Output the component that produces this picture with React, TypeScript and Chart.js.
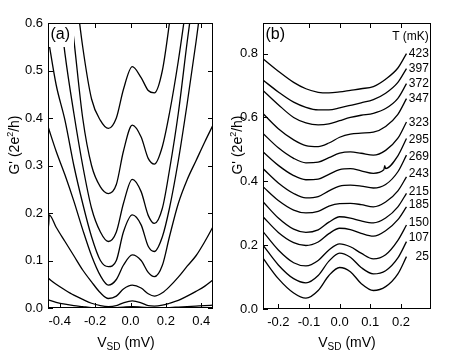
import React, { useEffect, useRef } from "react";
import { Chart, registerables } from "chart.js";

Chart.register(...registerables);

const FONT = '"Liberation Sans", Arial, Helvetica, sans-serif';

// ---------- Panel (a): G' vs V_SD for several gate settings ----------
const aBias = [-0.466, -0.42, -0.37, -0.32, -0.27, -0.22, -0.17, -0.125, -0.08, -0.04, 0.01, 0.06, 0.1, 0.135, 0.18, 0.22, 0.27, 0.32, 0.37, 0.42, 0.466];
const aCurve1 = [1.2, 1.0, 0.85, 0.7, 0.55, 0.44, 0.395, 0.378, 0.4, 0.46, 0.508, 0.485, 0.458, 0.453, 0.5, 0.6, 0.75, 0.9, 1.05, 1.2, 1.35];
const aCurve2 = [1.0, 0.85, 0.72, 0.565, 0.4, 0.3, 0.255, 0.241, 0.26, 0.33, 0.385, 0.36, 0.315, 0.303, 0.34, 0.41, 0.52, 0.65, 0.78, 0.9, 1.0];
const aCurve3 = [0.85, 0.7, 0.535, 0.41, 0.3, 0.21, 0.16, 0.14, 0.16, 0.22, 0.271, 0.245, 0.195, 0.178, 0.21, 0.29, 0.41, 0.56, 0.7, 0.85, 1.0];
const aCurve4 = [0.57, 0.47, 0.395, 0.3, 0.22, 0.15, 0.1, 0.087, 0.1, 0.16, 0.196, 0.175, 0.13, 0.119, 0.15, 0.21, 0.31, 0.43, 0.56, 0.7, 0.82];
const aCurve5 = [0.382, 0.33, 0.28, 0.225, 0.165, 0.11, 0.068, 0.048, 0.06, 0.09, 0.112, 0.1, 0.075, 0.066, 0.09, 0.15, 0.22, 0.27, 0.31, 0.35, 0.385];
const aCurve6 = [0.2, 0.17, 0.14, 0.11, 0.08, 0.055, 0.032, 0.02, 0.025, 0.04, 0.048, 0.042, 0.03, 0.025, 0.032, 0.045, 0.065, 0.088, 0.11, 0.14, 0.171];
const aCurve7 = [0.063, 0.05, 0.038, 0.027, 0.018, 0.01, 0.005, 0.003, 0.005, 0.011, 0.015, 0.011, 0.005, 0.004, 0.006, 0.01, 0.016, 0.025, 0.035, 0.046, 0.059];
const aCurve8 = [0.017, 0.012, 0.008, 0.005, 0.003, 0.001, 0.0, 0.0, 0.001, 0.002, 0.003, 0.002, 0.001, 0.0, 0.0, 0.001, 0.002, 0.003, 0.004, 0.005, 0.006];
const aGlitchBias = [-0.463, -0.459];
const aGlitchG = [0.171, 0.196];

// ---------- Panel (b): temperature dependence ----------
const bBias = [-0.25, -0.2, -0.15, -0.11, -0.07, -0.035, 0.0, 0.035, 0.07, 0.11, 0.15, 0.19, 0.218];
const bTemps = ["423", "397", "372", "347", "323", "295", "269", "243", "215", "185", "150", "107", "25"];
const b423 = [0.784, 0.745, 0.71, 0.69, 0.679, 0.677, 0.68, 0.685, 0.69, 0.697, 0.72, 0.755, 0.8];
const b397 = [0.717, 0.68, 0.648, 0.632, 0.624, 0.624, 0.63, 0.638, 0.646, 0.656, 0.676, 0.71, 0.753];
const b372 = [0.685, 0.64, 0.6, 0.583, 0.577, 0.58, 0.59, 0.6, 0.607, 0.613, 0.628, 0.66, 0.706];
const b347 = [0.6125, 0.565, 0.53, 0.512, 0.509, 0.52, 0.538, 0.548, 0.551, 0.554, 0.572, 0.61, 0.659];
const b323 = [0.55, 0.505, 0.472, 0.458, 0.46, 0.474, 0.488, 0.492, 0.488, 0.482, 0.497, 0.535, 0.586];
const b295 = [0.4925, 0.45, 0.418, 0.405, 0.407, 0.422, 0.437, 0.44, 0.433, 0.425, 0.44, 0.48, 0.534];
const b269 = [0.44, 0.395, 0.362, 0.348, 0.352, 0.37, 0.385, 0.388, 0.385, 0.379, 0.39, 0.43, 0.482];
const b243 = [0.383, 0.34, 0.31, 0.301, 0.306, 0.322, 0.33, 0.331, 0.327, 0.32, 0.335, 0.37, 0.414];
const b215 = [0.336, 0.285, 0.25, 0.24, 0.248, 0.272, 0.289, 0.285, 0.276, 0.27, 0.285, 0.32, 0.3625];
const b185 = [0.289, 0.24, 0.208, 0.199, 0.21, 0.236, 0.253, 0.249, 0.237, 0.228, 0.245, 0.28, 0.32];
const b150 = [0.2425, 0.185, 0.145, 0.135, 0.152, 0.185, 0.204, 0.195, 0.175, 0.157, 0.17, 0.215, 0.263];
const b107 = [0.2, 0.138, 0.095, 0.082, 0.105, 0.15, 0.175, 0.162, 0.13, 0.11, 0.12, 0.16, 0.211];
const b25 = [0.159, 0.095, 0.05, 0.034, 0.058, 0.105, 0.13, 0.117, 0.08, 0.058, 0.07, 0.11, 0.164];
const bSpikeBias = [0.144, 0.147];
const bSpikeG = [0.436, 0.449];
const bLabelG = [0.8, 0.753, 0.706, 0.659, 0.583, 0.531, 0.477, 0.425, 0.3675, 0.326, 0.269, 0.222, 0.1625];
const bLabelBias = 0.291;
const bHeaderG = 0.852;

type P = { x: number; y: number };
const pts = (xs: number[], ys: number[]): P[] => xs.map((x, i) => ({ x, y: ys[i] }));
const merge = (a: P[], b: P[]): P[] => [...a, ...b].sort((p, q) => p.x - q.x);

const lineDs = (data: P[]) => ({
  data,
  borderColor: "#000",
  borderWidth: 1.3,
  pointRadius: 0,
  fill: false,
  cubicInterpolationMode: "monotone" as const,
  clip: 0,
});

function drawVsd(ctx: CanvasRenderingContext2D, cx: number, base: number) {
  const big = `14px ${FONT}`;
  const small = `10px ${FONT}`;
  ctx.font = big;
  const wV = ctx.measureText("V").width;
  const wR = ctx.measureText(" (mV)").width;
  ctx.font = small;
  const wS = ctx.measureText("SD").width;
  let x = cx - (wV + wS + wR) / 2;
  ctx.textAlign = "left";
  ctx.textBaseline = "alphabetic";
  ctx.font = big;
  ctx.fillText("V", x, base);
  x += wV;
  ctx.font = small;
  ctx.fillText("SD", x, base + 3);
  x += wS;
  ctx.font = big;
  ctx.fillText(" (mV)", x, base);
}

function drawGtitle(ctx: CanvasRenderingContext2D, cx: number, cy: number) {
  const big = `14px ${FONT}`;
  const small = `9px ${FONT}`;
  ctx.save();
  ctx.translate(cx, cy);
  ctx.rotate(-Math.PI / 2);
  ctx.font = big;
  const w1 = ctx.measureText("G' (2e").width;
  const w3 = ctx.measureText("/h)").width;
  ctx.font = small;
  const w2 = ctx.measureText("2").width;
  let x = -(w1 + w2 + w3) / 2;
  ctx.textAlign = "left";
  ctx.textBaseline = "alphabetic";
  ctx.font = big;
  ctx.fillText("G' (2e", x, 5);
  x += w1;
  ctx.font = small;
  ctx.fillText("2", x, -1);
  x += w2;
  ctx.font = big;
  ctx.fillText("/h)", x, 5);
  ctx.restore();
}

type DecorOpts = {
  tag: string;
  boxW: number;
  boxH: number;
  xSides: string[];
  ySides: string[];
  xTitleCx: number;
  yTitleCx: number;
  yTitleCy: number;
  extra?: (chart: any) => void;
};

function makeDecor(o: DecorOpts) {
  return {
    id: "decor",
    afterDatasetsDraw(chart: any) {
      const ctx: CanvasRenderingContext2D = chart.ctx;
      const ca = chart.chartArea;
      const xs = chart.scales.x;
      const ys = chart.scales.y;
      const TL = 5;
      ctx.save();
      ctx.strokeStyle = "#000";
      ctx.lineWidth = 1;
      ctx.beginPath();
      xs.ticks.forEach((t: any) => {
        const px = Math.round(xs.getPixelForValue(t.value)) + 0.5;
        if (o.xSides.includes("bottom")) {
          ctx.moveTo(px, ca.bottom);
          ctx.lineTo(px, ca.bottom - TL);
        }
        if (o.xSides.includes("top")) {
          ctx.moveTo(px, ca.top);
          ctx.lineTo(px, ca.top + TL);
        }
      });
      ys.ticks.forEach((t: any) => {
        const py = Math.round(ys.getPixelForValue(t.value)) + 0.5;
        if (o.ySides.includes("left")) {
          ctx.moveTo(ca.left, py);
          ctx.lineTo(ca.left + TL, py);
        }
        if (o.ySides.includes("right")) {
          ctx.moveTo(ca.right, py);
          ctx.lineTo(ca.right - TL, py);
        }
      });
      ctx.stroke();
      // tag with white box
      ctx.fillStyle = "#fff";
      ctx.fillRect(ca.left + 1, ca.top + 1, o.boxW, o.boxH);
      ctx.fillStyle = "#000";
      ctx.font = `16px ${FONT}`;
      ctx.textAlign = "left";
      ctx.textBaseline = "alphabetic";
      ctx.fillText(o.tag, ca.left + 2.5, ca.top + 16);
      if (o.extra) o.extra(chart);
      // frame
      ctx.strokeRect(
        Math.round(ca.left) + 0.5,
        Math.round(ca.top) + 0.5,
        Math.round(ca.right - ca.left) - 1,
        Math.round(ca.bottom - ca.top) - 1
      );
      ctx.restore();
    },
    afterDraw(chart: any) {
      const ctx: CanvasRenderingContext2D = chart.ctx;
      ctx.save();
      ctx.fillStyle = "#000";
      drawVsd(ctx, o.xTitleCx, 347);
      drawGtitle(ctx, o.yTitleCx, o.yTitleCy);
      ctx.restore();
    },
  };
}

const tickFont = { family: FONT, size: 13 };

function baseOptions(
  xMin: number,
  xMax: number,
  xStep: number,
  yMax: number,
  yStep: number,
  pad: { left: number; right: number; top: number; bottom: number },
  yWidth: number,
  xHeight: number
): any {
  return {
    responsive: false,
    animation: false,
    events: [],
    layout: { padding: pad, autoPadding: false },
    plugins: { legend: { display: false }, tooltip: { enabled: false }, title: { display: false } },
    scales: {
      x: {
        type: "linear",
        min: xMin,
        max: xMax,
        grid: { display: false, drawTicks: false },
        border: { display: false },
        ticks: {
          stepSize: xStep,
          includeBounds: false,
          padding: 6,
          color: "#000",
          font: tickFont,
          maxRotation: 0,
          autoSkip: false,
          callback: (v: any) => Number(v).toFixed(1),
        },
        afterFit: (s: any) => {
          s.height = xHeight;
        },
      },
      y: {
        type: "linear",
        min: 0,
        max: yMax,
        grid: { display: false, drawTicks: false },
        border: { display: false },
        ticks: {
          stepSize: yStep,
          includeBounds: false,
          padding: 5,
          color: "#000",
          font: tickFont,
          autoSkip: false,
          callback: (v: any) => Number(v).toFixed(1),
        },
        afterFit: (s: any) => {
          s.width = yWidth;
        },
      },
    },
  };
}

export default function App() {
  const refA = useRef<HTMLCanvasElement>(null);
  const refB = useRef<HTMLCanvasElement>(null);

  useEffect(() => {
    const aSets = [aCurve1, aCurve2, aCurve3, aCurve4, aCurve5, aCurve6, aCurve7, aCurve8].map((c, i) => {
      let d = pts(aBias, c);
      if (i === 5) d = merge(d, pts(aGlitchBias, aGlitchG));
      return lineDs(d);
    });
    const chartA = new Chart(refA.current as HTMLCanvasElement, {
      type: "line",
      data: { datasets: aSets },
      options: baseOptions(-0.466, 0.466, 0.2, 0.6, 0.1, { left: 0, right: 250, top: 23, bottom: 0 }, 48, 44),
      plugins: [
        makeDecor({
          tag: "(a)",
          boxW: 25,
          boxH: 23,
          xSides: ["top", "bottom"],
          ySides: ["left", "right"],
          xTitleCx: 126,
          yTitleCx: 14,
          yTitleCy: 145,
        }),
      ],
    } as any);

    const bCurves = [b423, b397, b372, b347, b323, b295, b269, b243, b215, b185, b150, b107, b25];
    const bSets = bCurves.map((c, i) => {
      let d = pts(bBias, c);
      if (i === 5) d = merge(d, pts(bSpikeBias, bSpikeG));
      return lineDs(d);
    });
    const chartB = new Chart(refB.current as HTMLCanvasElement, {
      type: "line",
      data: { datasets: bSets },
      options: baseOptions(-0.25, 0.298, 0.1, 0.896, 0.2, { left: 215, right: 32, top: 23, bottom: 0 }, 48, 43),
      plugins: [
        makeDecor({
          tag: "(b)",
          boxW: 24,
          boxH: 20,
          xSides: ["top", "bottom"],
          ySides: ["left"],
          xTitleCx: 347,
          yTitleCx: 237,
          yTitleCy: 145,
          extra: (chart: any) => {
            const ctx: CanvasRenderingContext2D = chart.ctx;
            const xs = chart.scales.x;
            const ys = chart.scales.y;
            ctx.font = `12px ${FONT}`;
            ctx.textAlign = "right";
            ctx.textBaseline = "middle";
            ctx.fillStyle = "#000";
            const lx = xs.getPixelForValue(bLabelBias);
            ctx.fillText("T (mK)", lx, ys.getPixelForValue(bHeaderG));
            bTemps.forEach((t, i) => ctx.fillText(t, lx, ys.getPixelForValue(bLabelG[i])));
          },
        }),
      ],
    } as any);

    return () => {
      chartA.destroy();
      chartB.destroy();
    };
  }, []);

  return (
    <div style={{ position: "fixed", left: 0, top: 0, width: 463, height: 352, background: "#fff" }}>
      <canvas ref={refA} width={463} height={352} style={{ position: "absolute", left: 0, top: 0 }} />
      <canvas ref={refB} width={463} height={352} style={{ position: "absolute", left: 0, top: 0 }} />
    </div>
  );
}
